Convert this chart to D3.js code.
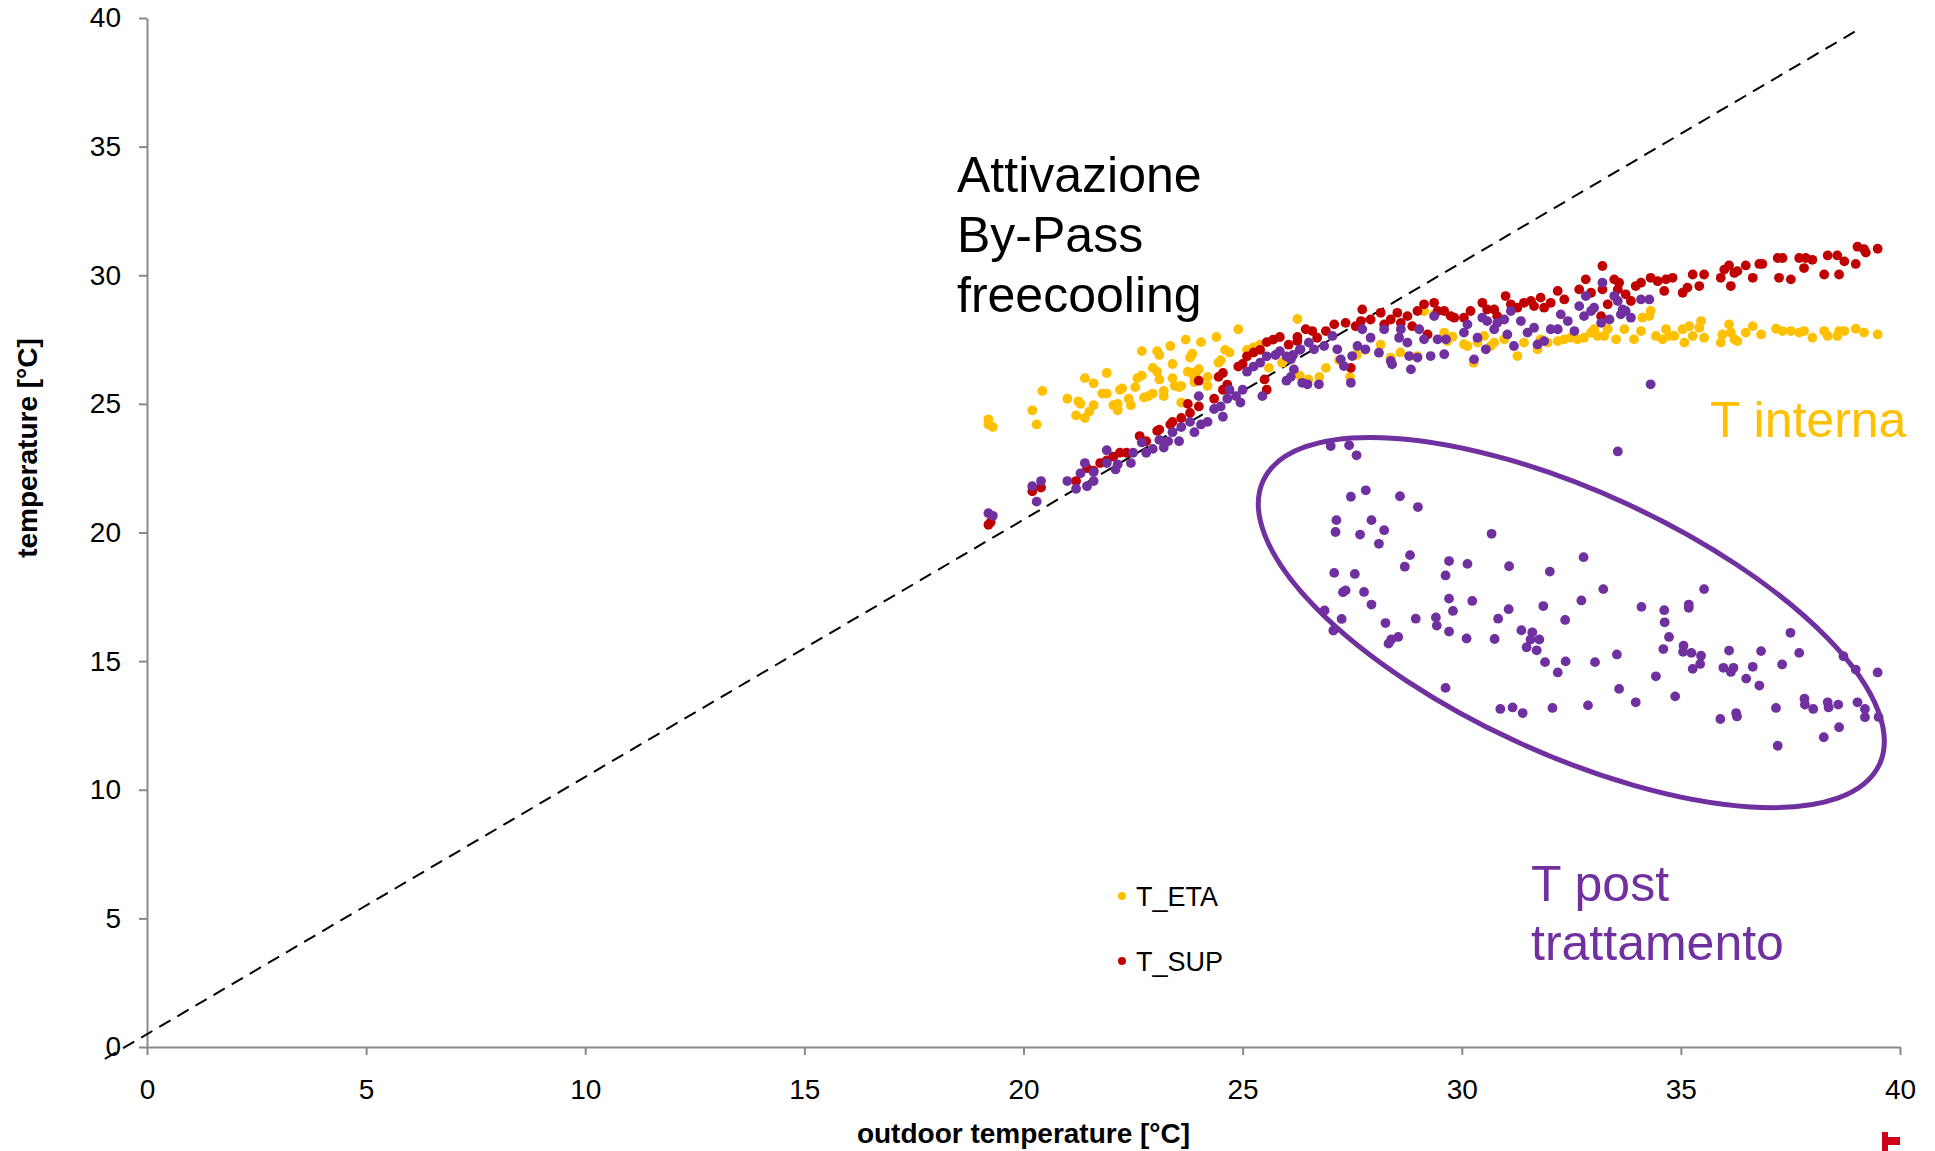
<!DOCTYPE html>
<html>
<head>
<meta charset="utf-8">
<script src="https://cdn.jsdelivr.net/npm/d3@7"></script>
<style>
  body { margin: 0; background: #fff; }
  svg { display: block; font-family: "Liberation Sans", Arial, Helvetica, sans-serif; }
</style>
</head>
<body>
<svg></svg>
<script>
// ticks
const xTicks = [0, 5, 10, 15, 20, 25, 30, 35, 40];
const yTicks = [0, 5, 10, 15, 20, 25, 30, 35, 40];

// T_ETA (orange) [outdoor, temperature]
const tEta = [
  [19.2,24.4],[19.2,24.2],[19.3,24.1],[20.43,25.5],[20.2,24.75],[20.3,24.2],[21.0,25.2],[21.2,24.55],
  [21.25,25.1],[21.3,25.0],[21.4,24.45],[21.4,26.0],[21.6,25.8],[21.5,24.7],[21.6,24.95],[21.8,25.4],
  [21.9,25.4],[21.9,26.2],[22.05,24.95],[22.15,25.0],[22.15,24.75],[22.2,25.55],[22.25,25.6],[22.4,25.2],
  [22.45,24.95],[22.55,25.65],[22.6,26.0],[22.7,26.1],[22.7,27.05],[22.75,25.25],[22.85,25.3],[22.95,25.4],
  [23.05,27.05],[23.1,26.9],[22.95,26.4],[23.05,26.25],[23.1,25.95],[23.2,25.5],[23.2,25.3],[23.35,27.25],
  [23.4,26.55],[23.4,26.0],[23.45,25.7],[23.55,25.65],[23.6,25.7],[23.6,25.05],[23.7,27.5],[23.8,26.8],
  [23.85,26.95],[23.75,26.25],[23.85,26.2],[23.95,26.25],[24.0,26.35],[23.9,26.0],[23.9,25.85],[24.05,27.4],
  [24.2,26.05],[24.2,25.7],[24.4,27.6],[24.45,26.6],[24.5,26.7],[24.6,27.1],[24.7,27.0],[24.9,27.9],
  [25.1,27.1],[25.25,27.2],[25.4,27.3],[26.25,28.3],[25.6,26.4],[25.9,26.6],[26.5,25.95],[26.9,26.4],
  [27.2,26.7],[27.6,26.9],
  [26.3,26.1],[26.75,26.05],[27.45,26.05],[27.8,27.1],[28.15,27.3],[28.38,26.8],[28.6,27.0],[28.99,26.86],
  [29.14,28.6],[29.37,28.48],[29.6,27.77],[29.67,27.44],[29.79,27.61],[30.05,27.32],[30.13,27.25],[30.27,26.6],
  [30.36,27.38],[30.51,27.64],[30.66,27.25],[30.74,27.38],[30.97,27.51],[31.27,26.86],[31.42,27.38],[31.73,27.12],
  [31.8,27.51],[31.96,27.38],[32.19,27.44],[32.34,27.51],[32.49,27.57],[32.64,27.51],[32.79,27.57],[32.95,27.77],
  [33.02,27.9],[33.1,27.64],[33.25,27.64],[33.33,27.9],
  [33.52,27.51],[33.71,27.9],[33.93,27.51],[34.09,27.83],[34.12,28.35],[34.28,28.41],[34.31,28.61],[34.43,27.64],
  [34.58,27.51],[34.66,27.9],[34.73,27.64],[34.85,27.64],[35.04,27.9],[35.08,27.38],[35.19,28.02],[35.27,27.64],
  [35.42,27.96],[35.46,28.22],[35.53,27.57],[35.91,27.38],[35.95,27.7],[36.1,28.09],[36.14,27.77],[36.22,27.51],
  [36.29,27.44],[36.48,27.77],[36.64,28.02],[36.83,27.7],[37.17,27.92],[37.32,27.83],[37.51,27.83],[37.7,27.77],
  [37.81,27.83],[38.0,27.57],[38.27,27.83],[38.35,27.64],[38.57,27.64],[38.61,27.83],[38.73,27.83],[38.99,27.92],
  [39.18,27.77],[39.49,27.7]
];

// T_SUP (red)
const tSup = [
  [19.2,20.3],[19.25,20.4],[20.2,21.6],[20.4,21.75],[21.2,22.0],[21.45,22.5],[21.6,22.4],[21.75,22.7],
  [21.9,22.8],[22.05,22.95],[22.2,23.1],[22.35,23.1],[22.65,23.75],[22.8,23.55],[23.05,23.95],[23.1,24.0],
  [23.35,24.2],[23.4,24.3],[23.6,24.45],[23.75,25.0],[23.8,24.65],[24.0,24.9],[24.0,25.9],[24.35,25.2],
  [24.45,26.05],[24.55,26.2],[24.55,25.55],[24.65,25.75],[24.9,26.45],[25.0,26.55],[25.1,26.85],[25.25,27.0],
  [25.4,27.1],[25.55,27.4],[25.7,27.5],[25.85,27.6],[26.05,27.3],[26.25,27.6],[25.5,25.95],[25.55,25.55],
  [26.25,27.44],[26.44,27.9],[26.59,27.83],[26.7,27.57],[26.9,27.83],[27.09,28.09],[27.35,28.15],[27.47,26.4],
  [27.58,28.02],[27.73,28.67],[27.7,28.22],[27.92,28.28],[28.15,28.54],[28.23,28.09],[28.38,28.28],[28.53,28.54],
  [28.61,28.15],[28.76,28.41],[28.87,28.02],[28.99,28.61],[29.14,28.87],[29.22,27.7],[29.37,28.93],[29.45,28.61],
  [29.6,28.61],[29.75,28.41],[29.83,28.35],[30.05,28.35],[30.2,28.61],[30.47,28.93],[30.58,28.67],[30.74,28.67],
  [30.81,28.41],[31.0,29.19],[31.12,28.87],[31.27,28.74],[31.42,28.93],[31.58,29.0],[31.65,28.8],[31.8,29.13],
  [31.88,28.74],[32.03,28.93],[32.19,29.39],[32.34,29.06],[32.68,29.45],[32.83,29.84],[32.95,29.32],[33.21,30.36],
  [33.21,29.45],[33.33,28.87],[33.18,28.41],
  [33.48,29.84],[33.59,29.71],[33.56,29.45],[33.74,29.26],[33.86,29.0],[33.97,29.58],[34.09,29.71],[34.31,29.9],
  [34.47,29.77],[34.62,29.39],[34.66,29.84],[34.81,29.9],[35.04,29.32],[35.15,29.52],[35.27,30.03],[35.42,29.58],
  [35.53,30.03],[35.91,29.9],[35.99,30.22],[36.1,30.38],[36.14,29.58],[36.22,30.09],[36.29,30.16],[36.48,30.38],
  [36.64,29.9],[36.79,30.44],[36.86,30.44],[37.21,30.67],[37.32,30.67],[37.24,29.9],[37.51,29.84],[37.7,30.67],
  [37.81,30.28],[37.85,30.67],[38.0,30.6],[38.27,30.03],[38.35,30.77],[38.57,30.77],[38.61,30.03],[38.73,30.54],
  [38.99,30.44],[39.03,31.11],[39.18,31.01],[39.22,30.88],[39.49,31.03]
];

// T post trattamento (purple)
const tPost = [
  [19.2,20.75],[19.3,20.65],[20.2,21.8],[20.4,22.0],[20.3,21.2],[21.0,22.0],[21.2,21.7],[21.3,22.3],
  [21.4,22.7],[21.45,21.8],[21.6,22.0],[21.6,22.35],[21.9,23.2],[21.9,22.7],[22.1,22.45],[22.15,22.65],
  [22.45,22.7],[22.5,23.1],[22.7,23.5],[22.8,23.1],[22.95,23.25],[23.1,23.6],[23.2,23.3],[23.3,23.55],
  [23.55,23.55],[23.4,23.9],[23.6,24.1],[23.8,24.3],[23.9,23.9],[24.0,25.3],[24.05,24.2],[24.2,24.3],
  [24.35,24.8],[24.5,24.9],[24.55,24.5],[24.65,25.2],[24.7,25.55],[24.85,25.3],[24.95,25.05],[25.0,25.55],
  [25.1,26.25],[25.25,26.45],[25.4,26.6],[25.45,25.3],[25.55,26.85],[25.75,26.9],[25.85,27.05],[26.0,26.85],
  [26.15,26.9],[26.3,27.1],[26.0,25.9],[26.1,26.05],
  [26.1,26.73],[26.17,26.34],[26.36,25.82],[26.48,25.76],[26.74,25.76],[26.32,27.12],[26.51,27.38],[26.63,27.12],
  [26.86,27.25],[27.05,27.64],[27.16,27.12],[27.24,26.73],[27.31,26.47],[27.47,25.82],[27.5,26.86],[27.62,27.25],
  [27.73,27.9],[27.8,27.12],[27.92,27.57],[28.11,26.99],[28.23,27.9],[28.38,26.67],[28.41,26.54],[28.57,27.57],
  [28.61,27.9],[28.76,27.38],[28.8,26.86],[28.84,26.34],[28.99,26.8],[29.03,27.9],[29.14,27.51],[29.29,26.86],
  [29.37,28.41],[29.45,27.51],[29.6,26.93],[29.64,27.51],[30.05,27.77],[30.13,28.09],[30.28,26.73],[30.36,27.57],
  [30.47,28.35],[30.58,28.22],[30.55,27.12],[30.74,27.9],[30.81,28.15],[30.97,28.28],[31.04,27.7],[31.12,28.61],
  [31.19,27.25],[31.35,28.22],[31.5,27.77],[31.65,27.96],[31.73,27.31],[31.88,27.44],[32.03,27.9],[32.19,27.9],
  [32.26,28.48],[32.42,28.22],[32.57,27.83],[32.68,28.8],[32.79,28.41],[32.83,29.19],[32.95,28.61],[33.02,28.74],
  [33.21,29.71],[33.18,28.15],[33.37,28.28],
  [33.48,29.19],[33.56,29.0],[33.67,28.67],[33.74,28.61],[33.63,28.48],[33.86,28.35],[34.09,29.06],[34.28,29.06],
  [34.31,25.76],[33.56,23.15],
  [27.01,23.36],[27.43,23.39],[27.6,23.0],[27.47,21.39],[27.81,21.64],[28.59,21.41],[29.0,20.99],[27.14,20.48],
  [27.94,20.48],[27.12,20.02],[27.68,19.92],[28.23,20.09],[28.11,19.56],[28.82,19.12],[28.7,18.67],[29.71,18.89],
  [30.13,18.78],[30.68,19.95],[27.09,18.43],[27.56,18.39],[29.63,18.33],
  [27.29,17.68],[27.35,17.75],[27.77,17.69],[27.94,17.2],[26.87,16.97],[27.26,16.64],[27.07,16.19],[28.26,16.48],
  [28.95,16.65],[29.41,16.7],[29.43,16.38],[29.71,17.43],[29.8,16.95],[30.24,17.34],[29.71,16.15],[30.11,15.88],
  [28.55,15.94],[28.39,15.84],[28.33,15.68],[30.83,16.65],[31.07,17.02],[30.75,15.86],[31.36,16.2],[31.61,16.12],
  [31.57,15.84],[31.77,15.84],[31.48,15.54],[31.71,15.42],[31.9,14.96],[31.86,17.14],[29.63,13.96],[30.88,13.14],
  [31.16,13.2],[31.39,12.98],[31.08,18.69],[32.01,18.48],
  [32.78,19.04],[33.23,17.8],[32.73,17.36],[32.36,16.6],[32.37,14.99],[32.19,14.56],[33.04,14.96],[33.54,15.26],
  [34.1,17.11],[34.62,16.98],[34.63,16.51],[34.73,15.94],[34.6,15.47],[34.43,14.41],[33.59,13.92],[33.97,13.4],
  [32.88,13.28],[32.07,13.18],[34.87,13.63],[35.06,15.6],[35.05,15.36],[35.24,15.32],[35.46,15.21],[35.44,14.89],
  [35.27,14.7],[35.18,17.2],[35.18,17.07],[35.53,17.8],[36.1,15.41],[35.97,14.74],[36.14,14.58],[36.2,14.74],
  [36.49,14.32],[36.64,14.78],[36.79,14.05],[36.83,15.39],[37.31,14.87],[37.5,16.1],[37.7,15.32],[37.17,13.18],
  [35.9,12.75],[36.26,12.98],[36.28,12.85],[37.21,11.71],[37.82,13.54],[37.83,13.31],[38.02,13.14],[38.26,12.04],
  [38.35,13.4],[38.37,13.2],[38.59,13.31],[38.61,12.43],[38.71,15.19],[38.99,14.67],[39.03,13.4],[39.2,13.14],
  [39.2,12.82],[39.49,14.56],[39.51,12.83]
];

// dashed reference line endpoints
const refLine = [[-0.96, -0.46], [39.1, 39.6]];

let aux = {
  w: 1935, h: 1151,
  left: 147, right: 1900, top: 18, bottom: 1047,
  r: 4.9,
  orange: "#FFC000", red: "#C00000", purple: "#7030A0", grey: "#898989"
};

let svg = d3.select("svg").attr("width", aux.w).attr("height", aux.h);

let x = d3.scaleLinear().domain([0, 40]).range([aux.left, aux.right]);
let y = d3.scaleLinear().domain([0, 40]).range([aux.bottom, aux.top]);

// axes
let gx = svg.append("g")
  .attr("transform", `translate(0,${aux.bottom})`)
  .call(d3.axisBottom(x).tickValues(xTicks).tickSize(8).tickSizeOuter(0).tickFormat(d3.format("d")));
gx.selectAll("text").attr("y", 32).attr("dy", "0.71em");

let gy = svg.append("g")
  .attr("transform", `translate(${aux.left},0)`)
  .call(d3.axisLeft(y).tickValues(yTicks).tickSize(8).tickSizeOuter(0).tickPadding(18).tickFormat(d3.format("d")));

svg.selectAll(".domain, .tick line").attr("stroke", aux.grey).attr("stroke-width", 2);
svg.selectAll(".tick text").attr("fill", "#000").style("font-size", "28px")
  .style("font-family", '"Liberation Sans", Arial, sans-serif');

// axis titles
svg.append("text")
  .attr("x", (aux.left + aux.right) / 2).attr("y", 1143)
  .attr("text-anchor", "middle").attr("font-weight", "bold").attr("font-size", 28)
  .text("outdoor temperature [°C]");
svg.append("text")
  .attr("transform", "translate(37,448) rotate(-90)")
  .attr("text-anchor", "middle").attr("font-weight", "bold").attr("font-size", 28)
  .text("temperature [°C]");

// dashed line
svg.append("path")
  .attr("d", d3.line().x(d => x(d[0])).y(d => y(d[1]))(refLine))
  .attr("fill", "none").attr("stroke", "#000").attr("stroke-width", 2)
  .attr("stroke-dasharray", "13,8");

// points: orange, red, then purple on top
let series = [
  { data: tEta, color: aux.orange },
  { data: tSup, color: aux.red },
  { data: tPost, color: aux.purple }
];
series.forEach(s => {
  svg.append("g").selectAll("circle")
    .data(s.data)
    .join("circle")
    .attr("cx", d => x(d[0]))
    .attr("cy", d => y(d[1]))
    .attr("r", aux.r)
    .attr("fill", s.color);
});

// ellipse around post-treatment points (radii in x units)
let ell = { cx: 32.5, cy: 16.5, rx: 7.74, ry: 2.99, angle: 24.7 };
svg.append("ellipse")
  .attr("transform", `translate(${x(ell.cx)},${y(ell.cy)}) rotate(${ell.angle})`)
  .attr("rx", x(ell.rx) - x(0)).attr("ry", x(ell.ry) - x(0))
  .attr("fill", "none").attr("stroke", aux.purple).attr("stroke-width", 5);

// annotations
let note = svg.append("text").attr("font-size", 50).attr("fill", "#000");
["Attivazione", "By-Pass", "freecooling"].forEach((t, i) => {
  note.append("tspan").attr("x", 957).attr("y", 192 + i * 60).text(t);
});

svg.append("text").attr("x", 1710).attr("y", 437)
  .attr("font-size", 50).attr("fill", aux.orange).text("T interna");

let post = svg.append("text").attr("font-size", 50).attr("fill", aux.purple);
["T post", "trattamento"].forEach((t, i) => {
  post.append("tspan").attr("x", 1531).attr("y", 901 + i * 59).text(t);
});

// legend
let legend = [
  { name: "T_ETA", color: aux.orange },
  { name: "T_SUP", color: aux.red }
];
let lg = svg.append("g").selectAll("g").data(legend).join("g")
  .attr("transform", (d, i) => `translate(1122,${896 + i * 65})`);
lg.append("circle").attr("r", 4).attr("fill", d => d.color);
lg.append("text").attr("x", 14).attr("y", 10).attr("font-size", 27).text(d => d.name);

// small cropped mark bottom right
svg.append("path")
  .attr("d", "M1882,1132 h6 v5 h12 v8 h-12 v6 h-6 z")
  .attr("fill", "#D0021B");
</script>
</body>
</html>
